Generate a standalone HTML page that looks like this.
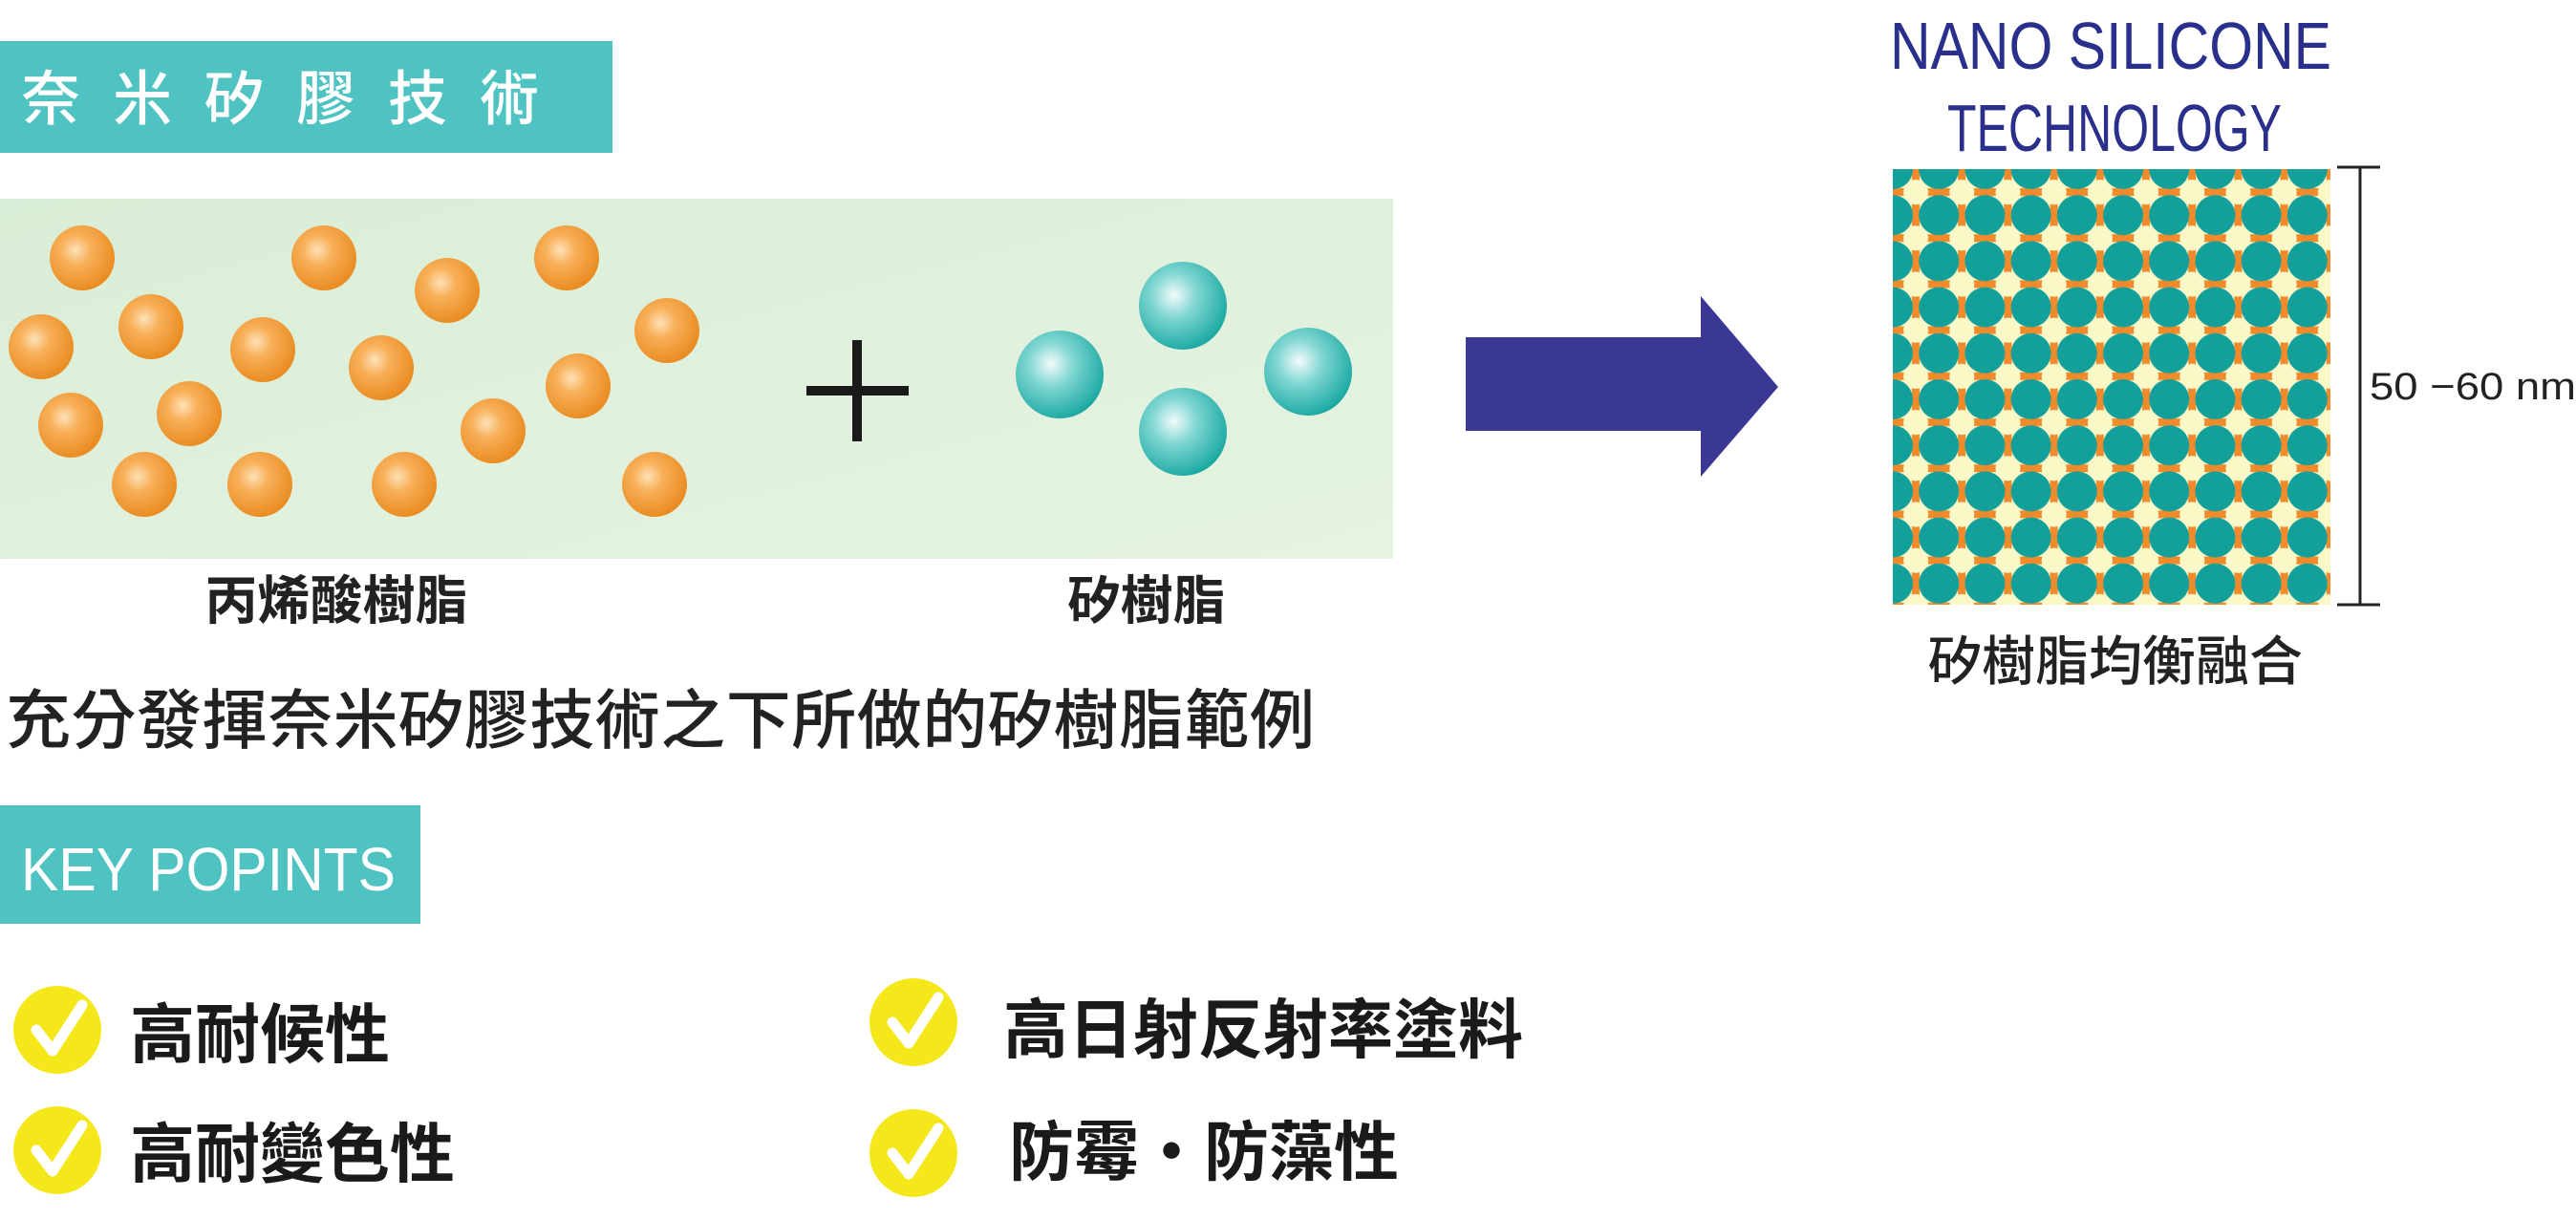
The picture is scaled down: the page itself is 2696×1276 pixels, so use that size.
<!DOCTYPE html>
<html><head><meta charset="utf-8"><style>
html,body{margin:0;padding:0;background:#fff;}
body{width:2696px;height:1271px;overflow:hidden;}
text{font-family:"Liberation Sans","Noto Sans CJK TC",sans-serif;}
</style></head><body>
<svg width="2696" height="1271" viewBox="0 0 2696 1271" xmlns="http://www.w3.org/2000/svg">
<defs>
<radialGradient id="og" cx="0.4" cy="0.38" r="0.65">
<stop offset="0" stop-color="#fde2b8"/><stop offset="0.35" stop-color="#f8b05a"/><stop offset="1" stop-color="#e98a1e"/></radialGradient>
<radialGradient id="tg" cx="0.4" cy="0.38" r="0.65">
<stop offset="0" stop-color="#f2fbfb"/><stop offset="0.4" stop-color="#7fd6d2"/><stop offset="1" stop-color="#1aa8a2"/></radialGradient>
<linearGradient id="pg" x1="0" y1="0" x2="1" y2="1">
<stop offset="0" stop-color="#d9eed6"/><stop offset="1" stop-color="#e6f3e2"/></linearGradient>
<pattern id="lat" x="1981" y="177" width="48.2" height="48.2" patternUnits="userSpaceOnUse">
<rect width="48.2" height="48.2" fill="#fbf8c8"/>
<rect x="20" y="0" width="8" height="48.2" fill="#f08a2a"/>
<rect x="0" y="20" width="48.2" height="8" fill="#f08a2a"/>
<circle cx="0" cy="0" r="21" fill="#13a09b"/><circle cx="48.2" cy="0" r="21" fill="#13a09b"/>
<circle cx="0" cy="48.2" r="21" fill="#13a09b"/><circle cx="48.2" cy="48.2" r="21" fill="#13a09b"/>
<circle cx="24.1" cy="24.1" r="13" fill="#fbf8c8"/>
</pattern>
</defs>
<rect x="0" y="43" width="641" height="117" fill="#4fc3c2"/>
<text x="22" y="125" font-size="62" fill="#fff" letter-spacing="34" font-weight="500">奈米矽膠技術</text>
<rect x="0" y="208" width="1458" height="377" fill="url(#pg)"/>
<g fill="url(#og)">
<circle cx="86" cy="270" r="34"/><circle cx="339" cy="270" r="34"/><circle cx="593" cy="270" r="34"/>
<circle cx="468" cy="304" r="34"/><circle cx="158" cy="342" r="34"/><circle cx="275" cy="366" r="34"/>
<circle cx="43" cy="363" r="34"/><circle cx="698" cy="346" r="34"/><circle cx="399" cy="385" r="34"/>
<circle cx="605" cy="404" r="34"/><circle cx="198" cy="433" r="34"/><circle cx="74" cy="445" r="34"/>
<circle cx="516" cy="451" r="34"/><circle cx="151" cy="507" r="34"/><circle cx="272" cy="507" r="34"/>
<circle cx="423" cy="507" r="34"/><circle cx="685" cy="507" r="34"/>
</g>
<rect x="844" y="404" width="107" height="10" fill="#1a1a1a"/>
<rect x="892" y="356" width="10" height="106" fill="#1a1a1a"/>
<g fill="url(#tg)">
<circle cx="1109" cy="392" r="46"/><circle cx="1238" cy="320" r="46"/><circle cx="1238" cy="452" r="46"/><circle cx="1369" cy="389" r="46"/>
</g>
<text x="352" y="648" font-size="55" fill="#222" text-anchor="middle" font-weight="bold">丙烯酸樹脂</text>
<text x="1200" y="648" font-size="55" fill="#222" text-anchor="middle" font-weight="bold">矽樹脂</text>
<text x="6" y="778" font-size="68" fill="#222" textLength="1370" font-weight="500">充分發揮奈米矽膠技術之下所做的矽樹脂範例</text>
<polygon points="1534,353 1780,353 1780,310 1861,405 1780,499 1780,451 1534,451" fill="#3a3894"/>
<text x="1978" y="72" font-size="70" fill="#2b2f8c" textLength="462" lengthAdjust="spacingAndGlyphs">NANO SILICONE</text>
<text x="2038" y="158" font-size="70" fill="#2b2f8c" textLength="350" lengthAdjust="spacingAndGlyphs">TECHNOLOGY</text>
<rect x="1981" y="177" width="458" height="456" fill="url(#lat)"/>
<line x1="2470" y1="175" x2="2470" y2="633" stroke="#222" stroke-width="3"/>
<line x1="2446" y1="175" x2="2491" y2="175" stroke="#222" stroke-width="3"/>
<line x1="2446" y1="633" x2="2491" y2="633" stroke="#222" stroke-width="3"/>
<text x="2480" y="418" font-size="40" fill="#222" textLength="216" lengthAdjust="spacingAndGlyphs">50 −60 nm</text>
<text x="2214" y="712" font-size="56" fill="#222" text-anchor="middle" font-weight="500">矽樹脂均衡融合</text>
<rect x="0" y="843" width="440" height="124" fill="#4fc3c2"/>
<text x="22" y="932" font-size="64" fill="#fff" textLength="392" lengthAdjust="spacingAndGlyphs">KEY POPINTS</text>
<g>
<circle cx="60" cy="1078" r="46" fill="#f5e81a"/>
<circle cx="60" cy="1204" r="46" fill="#f5e81a"/>
<circle cx="956" cy="1070" r="46" fill="#f5e81a"/>
<circle cx="956" cy="1207" r="46" fill="#f5e81a"/>
<g fill="none" stroke="#fff" stroke-width="11" stroke-linecap="round" stroke-linejoin="round">
<polyline points="38,1078 55,1100 86,1052"/>
<polyline points="38,1204 55,1226 86,1178"/>
<polyline points="934,1070 951,1092 982,1044"/>
<polyline points="934,1207 951,1229 982,1181"/>
</g>
</g>
<g font-size="68" fill="#1a1a1a" font-weight="bold">
<text x="136" y="1107">高耐候性</text>
<text x="136" y="1232">高耐變色性</text>
<text x="1050" y="1102">高日射反射率塗料</text>
<text x="1056" y="1230">防霉・防藻性</text>
</g>
</svg>
</body></html>
